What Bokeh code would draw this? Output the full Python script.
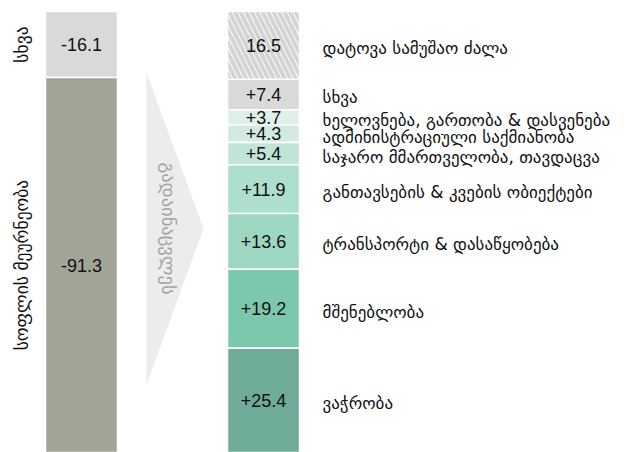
import math
from bokeh.plotting import figure
from bokeh.models import Range1d, ColumnDataSource
from bokeh.core.properties import value
from bokeh.embed import file_html
from bokeh.resources import INLINE

# ---- data ----
left_cats = ["სხვა", "სოფლის მეურნეობა"]
left_vals = [-16.1, -91.3]
left_labels = ["-16.1", "-91.3"]
left_colors = ["#d9d9d9", "#a3a396"]

right_cats = ["დატოვა სამუშაო ძალა", "სხვა", "ხელოვნება, გართობა & დასვენება",
              "ადმინისტრაციული საქმიანობა", "საჯარო მმართველობა, თავდაცვა",
              "განთავსების & კვების ობიექტები", "ტრანსპორტი & დასაწყობება",
              "მშენებლობა", "ვაჭრობა"]
right_vals = [16.5, 7.4, 3.7, 4.3, 5.4, 11.9, 13.6, 19.2, 25.4]
right_labels = ["16.5", "+7.4", "+3.7", "+4.3", "+5.4", "+11.9", "+13.6", "+19.2", "+25.4"]
right_colors = ["#ffffff", "#d9d9d9", "#def0e9", "#d1ebe2", "#c0e5d8", "#aedfce",
                "#9dd7c2", "#7cc8ad", "#6fab99"]
arrow_text = "გადაინაცვლეს"

W, H = 634, 452
total = sum(abs(v) for v in left_vals)
pad_top = 11  # px
px_per_unit = (H - pad_top) / total

p = figure(width=W, height=H, output_backend="svg", toolbar_location=None,
           x_range=Range1d(0, W), y_range=Range1d(0, total + pad_top / px_per_unit),
           min_border=0)
p.axis.visible = False
p.grid.visible = False
p.outline_line_color = None
p.background_fill_color = "white"
p.border_fill_color = "white"


def stack(vals):
    tops, bots = [], []
    cur = total
    for v in vals:
        tops.append(cur)
        cur -= abs(v)
        bots.append(cur)
    return tops, bots


LX, RX, BW = 81, 263, 72
FONT_NUM = value("Liberation Sans")
FONT_GE = value("DejaVu Sans")

# left bar
lt, lb = stack(left_vals)
lsrc = ColumnDataSource(dict(top=lt, bottom=lb, color=left_colors, lab=left_labels,
                             cat=left_cats, mid=[(a + b) / 2 for a, b in zip(lt, lb)]))
p.vbar(x=LX, width=BW, top="top", bottom="bottom", fill_color="color", source=lsrc,
       line_color="white", line_width=1.5)
p.text(x=LX, y="mid", text="lab", source=lsrc, text_align="center", text_baseline="middle",
       text_font=FONT_NUM, text_font_size="18px", text_color="#111111")
p.text(x=21, y="mid", text="cat", source=lsrc, text_align="center", text_baseline="middle",
       angle=math.pi / 2, text_font=FONT_GE, text_font_size="17.5px", text_color="#111111")

# right bar
rt, rb = stack(right_vals)
rmid = [(a + b) / 2 for a, b in zip(rt, rb)]
rsrc = ColumnDataSource(dict(top=rt, bottom=rb, color=right_colors, lab=right_labels,
                             cat=right_cats, mid=rmid))
p.vbar(x=RX, width=BW, top="top", bottom="bottom", fill_color="color", source=rsrc,
       line_color="white", line_width=1.5)
# hatched first segment
p.vbar(x=RX, width=BW, top=rt[0], bottom=rb[0], fill_color="white", line_color="white",
       line_width=1.5, hatch_pattern="\\", hatch_color="#d4d4d4", hatch_scale=11,
       hatch_weight=4)
p.text(x=RX, y="mid", text="lab", source=rsrc, text_align="center", text_baseline="middle",
       text_font=FONT_NUM, text_font_size="18px", text_color="#111111")
p.text(x=322, y="mid", text="cat", source=rsrc, text_align="left", text_baseline="middle",
       y_offset=3, text_font=FONT_GE, text_font_size="17px", text_color="#111111")

# arrow
a_mid = total / 2 + 0.85
a_half = 38
p.patch(x=[146, 203, 146], y=[a_mid + a_half, a_mid, a_mid - a_half],
        fill_color="#ececec", line_color=None)
p.text(x=[168], y=[a_mid], text=[arrow_text], angle=-math.pi / 2, text_align="center",
       text_baseline="middle", text_font=FONT_GE, text_font_size="18.5px",
       text_color="#a3a3a3")

open("out.html", "w").write(file_html(p, INLINE))
